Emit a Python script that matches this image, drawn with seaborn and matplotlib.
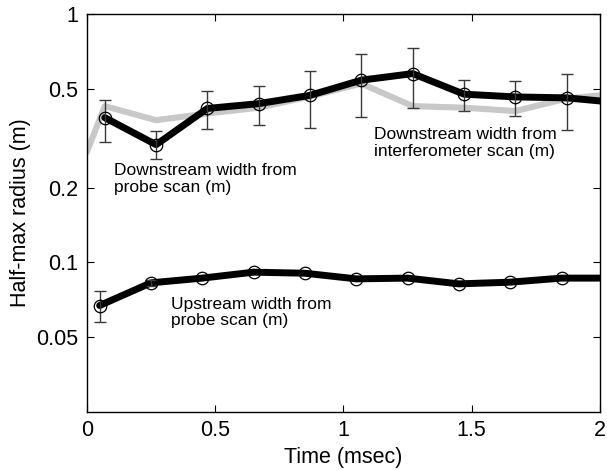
import numpy as np
import pandas as pd
import matplotlib
matplotlib.use("Agg")
import matplotlib.pyplot as plt
import seaborn as sns

# Downstream probe scan: time (msec), half-max radius (m) and error bar ends
probe_time = [0.07, 0.27, 0.47, 0.67, 0.87, 1.07, 1.27, 1.47, 1.67, 1.87, 2.07]
probe_width = [0.383, 0.298, 0.417, 0.436, 0.471, 0.542, 0.576, 0.476, 0.464, 0.460, 0.440]
probe_upper = [0.453, 0.338, 0.489, 0.512, 0.591, 0.694, 0.727, 0.545, 0.538, 0.573, None]
probe_lower = [0.306, 0.262, 0.344, 0.357, 0.349, 0.385, 0.420, 0.406, 0.389, 0.340, None]

# Downstream interferometer scan
interf_time = [0.0, 0.07, 0.27, 0.47, 0.67, 0.87, 1.07, 1.27, 1.47, 1.67, 1.87, 2.07]
interf_width = [0.278, 0.426, 0.374, 0.398, 0.420, 0.466, 0.525, 0.426, 0.420, 0.407, 0.457, 0.479]

# Upstream probe scan
up_time = [0.05, 0.25, 0.45, 0.65, 0.85, 1.05, 1.25, 1.45, 1.65, 1.85, 2.05]
up_width = [0.0671, 0.0828, 0.0865, 0.0914, 0.0905, 0.0859, 0.0865, 0.0820, 0.0833, 0.0865, 0.0865]
up_err = [0.0095, 0.0025, 0.0, 0.0, 0.0, 0.0, 0.0, 0.0, 0.0, 0.0, 0.0]

x_ticks = [0, 0.5, 1, 1.5, 2]
x_tick_labels = ["0", "0.5", "1", "1.5", "2"]
y_ticks = [0.05, 0.1, 0.2, 0.5, 1]
y_tick_labels = ["0.05", "0.1", "0.2", "0.5", "1"]

sns.set_style("ticks")
plt.rcParams["font.family"] = ["Liberation Sans", "DejaVu Sans"]
plt.rcParams["xtick.direction"] = "in"
plt.rcParams["ytick.direction"] = "in"
plt.rcParams["text.color"] = "black"
plt.rcParams["axes.labelcolor"] = "black"
plt.rcParams["xtick.color"] = "black"
plt.rcParams["ytick.color"] = "black"

fig = plt.figure(figsize=(6.07, 4.70), dpi=100)
ax = fig.add_axes([0.143, 0.1234, 0.8455, 0.8466])

probe = pd.DataFrame({"t": probe_time, "w": probe_width})
interf = pd.DataFrame({"t": interf_time, "w": interf_width})
up = pd.DataFrame({"t": up_time, "w": up_width})

sns.lineplot(data=interf, x="t", y="w", ax=ax, color="#c8c8c8", lw=4.4,
             sort=False, zorder=2)
sns.lineplot(data=probe, x="t", y="w", ax=ax, color="black", lw=5.0,
             sort=False, zorder=3)
sns.lineplot(data=up, x="t", y="w", ax=ax, color="black", lw=5.0,
             sort=False, zorder=3)

# error bars and open circle markers
pt = np.array(probe_time[:-1])
pw = np.array(probe_width[:-1])
pu = np.array(probe_upper[:-1], dtype=float)
pl = np.array(probe_lower[:-1], dtype=float)
ax.errorbar(pt, pw, yerr=[pw - pl, pu - pw], fmt="none", ecolor="#3a3a3a",
            elinewidth=1.0, capsize=4, capthick=1.0, zorder=4)
ax.errorbar(up_time[:2], up_width[:2], yerr=up_err[:2], fmt="none",
            ecolor="#3a3a3a", elinewidth=1.0, capsize=4, capthick=1.0, zorder=4)
ax.plot(pt, pw, ls="none", marker="o", ms=9, mfc="none", mec="black",
        mew=0.9, zorder=5)
ax.plot(up_time[:-1], up_width[:-1], ls="none", marker="o", ms=9, mfc="none",
        mec="black", mew=0.9, zorder=5)

ax.set_yscale("log")
ax.set_xlim(0, 2)
ax.set_ylim(0.025, 1)
ax.set_xticks(x_ticks)
ax.set_xticklabels(x_tick_labels)
ax.set_yticks(y_ticks)
ax.set_yticklabels(y_tick_labels)
ax.yaxis.set_minor_locator(matplotlib.ticker.NullLocator())
ax.tick_params(axis="both", which="major", labelsize=15.5, length=5, width=0.8,
               top=True, right=True, color="black", labelcolor="black", pad=6)
for sp in ax.spines.values():
    sp.set_visible(True)
    sp.set_linewidth(1.0)
    sp.set_color("black")

ax.set_xlabel("Time (msec)", fontsize=15.5, labelpad=4, color="black")
ax.set_ylabel("Half-max radius (m)", fontsize=15.5, labelpad=4, color="black")

ax.text(0.105, 0.251, "Downstream width from\nprobe scan (m)", fontsize=12.5,
        va="top", ha="left", linespacing=1.15, color="black")
ax.text(1.12, 0.350, "Downstream width from\ninterferometer scan (m)", fontsize=12.5,
        va="top", ha="left", linespacing=1.15, color="black")
ax.text(0.33, 0.0729, "Upstream width from\nprobe scan (m)", fontsize=12.5,
        va="top", ha="left", linespacing=1.15, color="black")

fig.savefig("out.png", dpi=100)
